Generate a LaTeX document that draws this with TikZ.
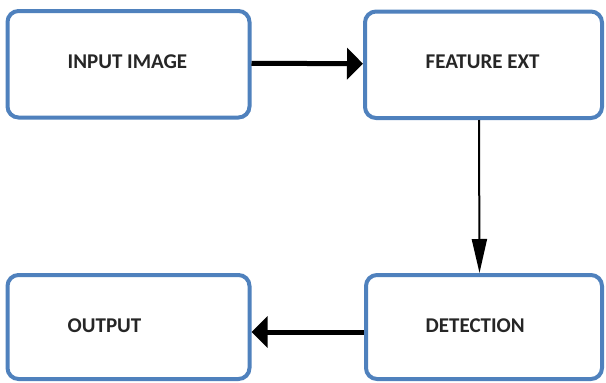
\documentclass[tikz,border=0pt]{standalone}
\usepackage{fontspec}
\setmainfont{Carlito}
\usetikzlibrary{arrows.meta}
\definecolor{boxblue}{HTML}{4F81BD}
\definecolor{txt}{HTML}{262626}
\tikzset{
  blk/.style={draw=boxblue, line width=4pt, rounded corners=11pt, fill=white, inner sep=0pt},
  lbl/.style={font=\fontsize{21}{25}\selectfont\bfseries, text=txt, inner sep=0pt, anchor=base west},
  thick arr/.style={line width=5pt, -{Triangle[length=16pt,width=31pt]}},
  thin arr/.style={line width=2pt, -{Triangle[length=34pt,width=15pt]}}
}
\begin{document}
\begin{tikzpicture}[x=1pt,y=-1pt]
\useasboundingbox (0,0) rectangle (606,383);
\node[blk, minimum width=242pt, minimum height=106.5pt] (in) at (128.5,64.25) {};
\node[blk, minimum width=237pt, minimum height=106.5pt] (fe) at (483.5,64.75) {};
\node[blk, minimum width=242pt, minimum height=104pt] (out) at (128.5,327) {};
\node[blk, minimum width=236pt, minimum height=104pt] (det) at (484,327) {};
\node[lbl] (tin) at (67.5,68.5) {INPUT IMAGE};
\node[lbl] (tfe) at (425.5,68.5) {FEATURE EXT};
\node[lbl] (tout) at (67.5,332.3) {OUTPUT};
\node[lbl] (tdet) at (425.5,332.3) {DETECTION};
\draw[thick arr] ([yshift=1pt]in.east) -- ([yshift=1pt]fe.west);
\draw[thin arr] ([xshift=-4.5pt]fe.south) -- ([xshift=-4.5pt]det.north);
\draw[thick arr] ([yshift=-5pt]det.west) -- ([yshift=-5pt]out.east);
\end{tikzpicture}
\end{document}
